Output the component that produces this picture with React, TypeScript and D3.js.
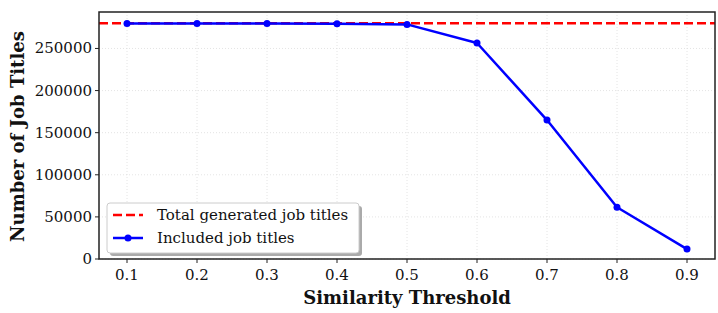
import React from "react";
import * as d3 from "d3";

const thresholds = [0.1, 0.2, 0.3, 0.4, 0.5, 0.6, 0.7, 0.8, 0.9];
const includedTitles = [279600, 279600, 279500, 279400, 278600, 256500, 165000, 61500, 11800];
const totalGenerated = 280000;
const yTicks = [0, 50000, 100000, 150000, 200000, 250000];
const xTicks = [0.1, 0.2, 0.3, 0.4, 0.5, 0.6, 0.7, 0.8, 0.9];
const legendLabels = ["Total generated job titles", "Included job titles"];

const W = 718, H = 313;
const m = { left: 99, right: 715, top: 12, bottom: 259 };
const font = "'DejaVu Serif', serif";

export default function App() {
  const x = d3.scaleLinear().domain([0.06, 0.94]).range([m.left, m.right]);
  const y = d3.scaleLinear().domain([0, 293300]).range([m.bottom, m.top]);
  const line = d3.line<number>().x((_, i) => x(thresholds[i])).y((d) => y(d));
  const lx = 107, ly = 203, lw = 252, lh = 50;
  return (
    <svg width={W} height={H} style={{ position: "absolute", left: 0, top: 0 }}>
      <rect width={W} height={H} fill="#fff" />
      {xTicks.map((t) => (
        <line key={"gx" + t} x1={x(t)} x2={x(t)} y1={m.top} y2={m.bottom} stroke="#ddd" strokeWidth={0.8} strokeDasharray="1,2" />
      ))}
      {yTicks.map((t) => (
        <line key={"gy" + t} x1={m.left} x2={m.right} y1={y(t)} y2={y(t)} stroke="#ddd" strokeWidth={0.8} strokeDasharray="1,2" />
      ))}
      <line x1={m.left} x2={m.right} y1={y(totalGenerated)} y2={y(totalGenerated)} stroke="#ff0000" strokeWidth={2.5} strokeDasharray="9,4" />
      <path d={line(includedTitles) || ""} fill="none" stroke="#0000ff" strokeWidth={2.5} strokeLinejoin="round" />
      {includedTitles.map((v, i) => (
        <circle key={i} cx={x(thresholds[i])} cy={y(v)} r={3.5} fill="#0000ff" />
      ))}
      <rect x={m.left} y={m.top} width={m.right - m.left} height={m.bottom - m.top} fill="none" stroke="#222" strokeWidth={1.5} />
      {xTicks.map((t) => (
        <g key={"xt" + t}>
          <line x1={x(t)} x2={x(t)} y1={m.bottom} y2={m.bottom + 4} stroke="#222" strokeWidth={1} />
          <text x={x(t)} y={m.bottom + 21} textAnchor="middle" fontFamily={font} fontSize={15} fill="#111">{t.toFixed(1)}</text>
        </g>
      ))}
      {yTicks.map((t) => (
        <g key={"yt" + t}>
          <line x1={m.left - 4} x2={m.left} y1={y(t)} y2={y(t)} stroke="#222" strokeWidth={1} />
          <text x={m.left - 7} y={y(t) + 5} textAnchor="end" fontFamily={font} fontSize={15} fill="#111">{t}</text>
        </g>
      ))}
      <text x={(m.left + m.right) / 2} y={304} textAnchor="middle" fontFamily={font} fontSize={18} fontWeight="bold" fill="#111">Similarity Threshold</text>
      <text transform={`translate(24,${(m.top + m.bottom) / 2 + 1}) rotate(-90)`} textAnchor="middle" fontFamily={font} fontSize={18} fontWeight="bold" fill="#111">Number of Job Titles</text>
      <rect x={lx + 3} y={ly + 3} width={lw} height={lh} rx={3} fill="#aaa" />
      <rect x={lx} y={ly} width={lw} height={lh} rx={3} fill="#fff" stroke="#ccc" strokeWidth={1} />
      <line x1={lx + 6} x2={lx + 36} y1={ly + 12} y2={ly + 12} stroke="#ff0000" strokeWidth={2.5} strokeDasharray="9,4" />
      <line x1={lx + 6} x2={lx + 36} y1={ly + 35} y2={ly + 35} stroke="#0000ff" strokeWidth={2.5} />
      <circle cx={lx + 21} cy={ly + 35} r={3.5} fill="#0000ff" />
      <text x={lx + 50} y={ly + 17} fontFamily={font} fontSize={15} fill="#111">{legendLabels[0]}</text>
      <text x={lx + 50} y={ly + 40} fontFamily={font} fontSize={15} fill="#111">{legendLabels[1]}</text>
    </svg>
  );
}
